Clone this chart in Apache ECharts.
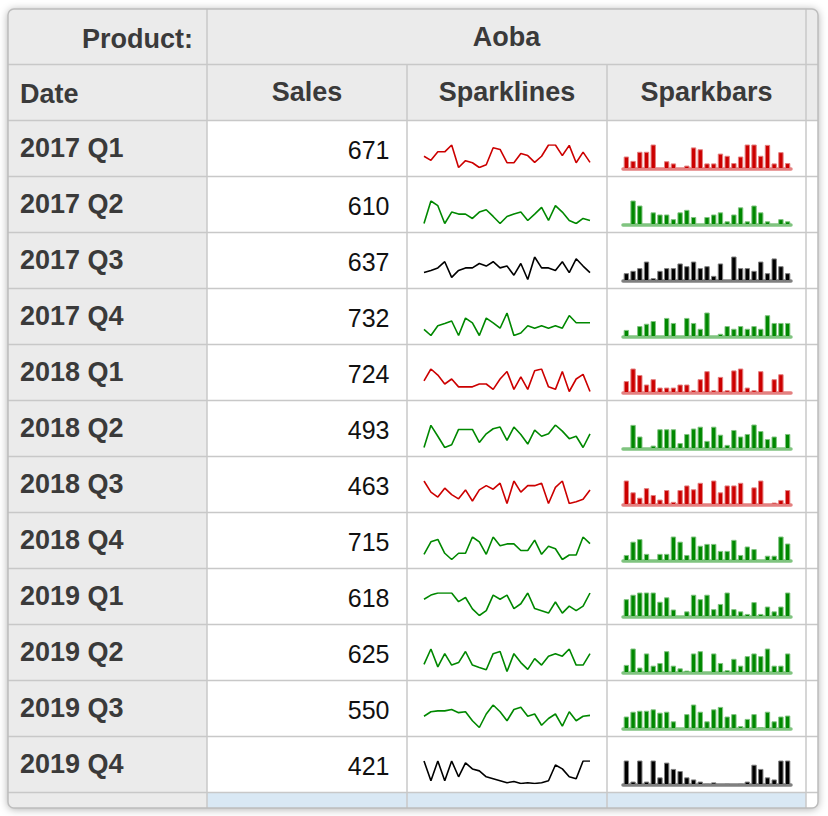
<!DOCTYPE html>
<html>
<head>
<meta charset="utf-8">
<script src="https://cdn.jsdelivr.net/npm/echarts@6/dist/echarts.min.js"></script>
<style>
  html, body { margin: 0; padding: 0; background: #fff; }
  #pivotChart { width: 828px; height: 816px; }
</style>
</head>
<body>
<div id="pivotChart"></div>
<script>
// pivot header texts
const productLabel = 'Product:';
const productName = 'Aoba';
const columnTitles = ['Date', 'Sales', 'Sparklines', 'Sparkbars'];

// one row per quarter
const quarters = ['2017 Q1', '2017 Q2', '2017 Q3', '2017 Q4', '2018 Q1', '2018 Q2',
  '2018 Q3', '2018 Q4', '2019 Q1', '2019 Q2', '2019 Q3', '2019 Q4'];
const sales = [671, 610, 637, 732, 724, 493, 463, 715, 618, 625, 550, 421];

// 25 readings behind each sparkline / sparkbar
const trend2017Q1 = [40, 28, 53, 53, 73, 7, 27, 21, 7, 15, 65, 60, 21, 21, 48, 42, 22, 40, 73, 73, 42, 72, 21, 52, 22];
const trend2017Q2 = [3, 70, 56, 3, 37, 31, 31, 18, 37, 44, 24, 3, 24, 31, 37, 12, 31, 51, 12, 56, 37, 12, 3, 18, 12];
const trend2017Q3 = [27, 33, 40, 57, 14, 33, 40, 40, 52, 45, 57, 40, 45, 20, 52, 8, 70, 40, 40, 33, 57, 27, 65, 45, 27];
const trend2017Q4 = [22, 5, 32, 38, 45, 5, 53, 40, 5, 53, 40, 25, 67, 5, 12, 32, 25, 32, 25, 32, 25, 60, 40, 40, 40];
const trend2018Q1 = [34, 67, 50, 25, 39, 17, 17, 17, 25, 25, 10, 39, 60, 10, 45, 10, 62, 67, 17, 10, 60, 4, 39, 52, 4];
const trend2018Q2 = [4, 69, 37, 4, 12, 57, 57, 57, 19, 44, 59, 64, 25, 64, 42, 14, 55, 37, 44, 70, 52, 30, 37, 4, 44];
const trend2018Q3 = [66, 35, 21, 46, 28, 16, 41, 10, 41, 53, 43, 60, 3, 66, 35, 53, 53, 60, 3, 48, 66, 3, 8, 15, 41];
const trend2018Q4 = [18, 54, 61, 21, 3, 21, 21, 68, 54, 18, 68, 43, 48, 48, 29, 29, 59, 18, 41, 34, 3, 16, 16, 68, 49];
const trend2019Q1 = [50, 62, 68, 68, 68, 43, 55, 22, 3, 17, 62, 50, 62, 23, 37, 68, 23, 17, 10, 42, 10, 30, 17, 30, 68];
const trend2019Q2 = [23, 66, 16, 53, 21, 28, 59, 21, 14, 8, 53, 59, 3, 53, 28, 9, 39, 21, 46, 53, 46, 66, 21, 21, 53];
const trend2019Q3 = [30, 40, 42, 42, 45, 38, 40, 20, 5, 35, 55, 40, 20, 45, 50, 30, 35, 10, 25, 35, 8, 40, 20, 30, 32];
const trend2019Q4 = [60, 10, 60, 10, 60, 20, 55, 40, 35, 20, 15, 10, 5, 8, 3, 5, 3, 5, 10, 50, 40, 20, 15, 60, 60];
const trends = [trend2017Q1, trend2017Q2, trend2017Q3, trend2017Q4, trend2018Q1, trend2018Q2,
  trend2018Q3, trend2018Q4, trend2019Q1, trend2019Q2, trend2019Q3, trend2019Q4];

// table geometry
const colX = [8, 207, 407, 607, 806, 818];
const tableTop = 9, tableBottom = 808;
const headLine1 = 64.5, bodyTop = 120.5, rowH = 56;
const lineColor = '#c8c8c8';
const headBg = '#ebebeb';
const fontFamily = '"Liberation Sans", Arial, Helvetica, sans-serif';

// colour of a row: up = green, down = red, flat = black
function trendColor(arr) {
  const first = arr[0], last = arr[arr.length - 1];
  if (last > first) return ['#008800', '#80c480'];
  if (last < first) return ['#cc0000', '#e48080'];
  return ['#000000', '#808080'];
}

function txt(text, x, y, align, bold, size, fill) {
  return {
    type: 'text', silent: true, z: 10,
    style: {
      text: text, x: x, y: y,
      align: align, textAlign: align,
      verticalAlign: 'middle', textVerticalAlign: 'middle',
      font: (bold ? 'bold ' : '') + size + 'px ' + fontFamily,
      fill: fill
    }
  };
}

function hline(y, x1, x2) {
  return { type: 'line', silent: true, z: 5, shape: { x1: x1, y1: y, x2: x2, y2: y }, style: { stroke: lineColor, lineWidth: 1.5 } };
}
function vline(x, y1, y2) {
  return { type: 'line', silent: true, z: 5, shape: { x1: x, y1: y1, x2: x, y2: y2 }, style: { stroke: lineColor, lineWidth: 1.5 } };
}

const graphics = [];
// card with shadow
graphics.push({
  type: 'rect', silent: true, z: 0,
  shape: { x: colX[0], y: tableTop, width: colX[5] - colX[0], height: tableBottom - tableTop, r: 6 },
  style: { fill: '#fff', shadowBlur: 8, shadowColor: 'rgba(0,0,0,0.35)', shadowOffsetY: 1 }
});
// header backgrounds
graphics.push({ type: 'rect', silent: true, z: 1,
  shape: { x: colX[0], y: tableTop, width: colX[5] - colX[0], height: bodyTop - tableTop, r: [6, 6, 0, 0] },
  style: { fill: headBg } });
graphics.push({ type: 'rect', silent: true, z: 1,
  shape: { x: colX[0], y: bodyTop, width: colX[1] - colX[0], height: tableBottom - bodyTop, r: [0, 0, 0, 6] },
  style: { fill: headBg } });
// partly scrolled-in last row
const lastRowY = bodyTop + rowH * quarters.length;
graphics.push({ type: 'rect', silent: true, z: 1,
  shape: { x: colX[1], y: lastRowY, width: colX[4] - colX[1], height: tableBottom - lastRowY },
  style: { fill: '#d9e8f4' } });

// grid lines
graphics.push(hline(headLine1, colX[0], colX[5]));
for (let i = 0; i <= quarters.length; i++) {
  graphics.push(hline(bodyTop + rowH * i, colX[0], colX[5]));
}
graphics.push(vline(colX[1], tableTop, tableBottom));
graphics.push(vline(colX[2], headLine1, tableBottom));
graphics.push(vline(colX[3], headLine1, tableBottom));
graphics.push(vline(colX[4], tableTop, tableBottom));
// outer border
graphics.push({
  type: 'rect', silent: true, z: 6,
  shape: { x: colX[0], y: tableTop, width: colX[5] - colX[0], height: tableBottom - tableTop, r: 6 },
  style: { fill: 'none', stroke: '#bdbdbd', lineWidth: 1.5 }
});

// header texts
graphics.push(txt(productLabel, 193, 39, 'right', true, 27, '#3a3a3a'));
graphics.push(txt(productName, (colX[1] + colX[4]) / 2, 37, 'center', true, 27, '#3a3a3a'));
graphics.push(txt(columnTitles[0], 20, 94, 'left', true, 27, '#3a3a3a'));
for (let c = 1; c < 4; c++) {
  graphics.push(txt(columnTitles[c], (colX[c] + colX[c + 1]) / 2, 92, 'center', true, 27, '#3a3a3a'));
}
// body texts
quarters.forEach(function (q, i) {
  const mid = bodyTop + rowH * i + 28;
  graphics.push(txt(q, 20, mid - 0.5, 'left', true, 27, '#3a3a3a'));
  graphics.push(txt(String(sales[i]), 389.5, mid + 1, 'right', false, 25, '#111'));
});

// sparkline + sparkbar grids
const grids = [], xAxes = [], yAxes = [], series = [];
trends.forEach(function (arr, i) {
  const top = bodyTop + rowH * i;
  const cols = trendColor(arr);
  const cats = arr.map(function (v, k) { return k; });

  // sparkline
  grids.push({ left: 424, top: top + 24.5, width: 166, height: 22.5 });
  xAxes.push({ type: 'category', gridIndex: 2 * i, data: cats, boundaryGap: false, show: false });
  yAxes.push({ type: 'value', gridIndex: 2 * i, min: 'dataMin', max: 'dataMax', show: false });
  series.push({
    type: 'line', xAxisIndex: 2 * i, yAxisIndex: 2 * i, data: arr,
    symbol: 'none', silent: true,
    lineStyle: { color: cols[0], width: 1.6 }
  });

  // sparkbar
  grids.push({ left: 623, top: top + 24, width: 168, height: 24 });
  xAxes.push({
    type: 'category', gridIndex: 2 * i + 1, data: cats, boundaryGap: true,
    axisLine: { show: true, onZero: false, lineStyle: { color: cols[1], width: 3.5 } },
    axisTick: { show: false }, axisLabel: { show: false }, splitLine: { show: false }
  });
  yAxes.push({ type: 'value', gridIndex: 2 * i + 1, min: 'dataMin', max: 'dataMax', show: false });
  series.push({
    type: 'bar', xAxisIndex: 2 * i + 1, yAxisIndex: 2 * i + 1, data: arr,
    silent: true, barCategoryGap: '20%',
    itemStyle: { color: cols[0], borderColor: cols[1], borderWidth: 1 }
  });
});

const myChart = echarts.init(document.getElementById('pivotChart'), null, { renderer: 'svg' });
myChart.setOption({
  animation: false,
  tooltip: { show: false },
  graphic: graphics,
  grid: grids,
  xAxis: xAxes,
  yAxis: yAxes,
  series: series
});
</script>
</body>
</html>
